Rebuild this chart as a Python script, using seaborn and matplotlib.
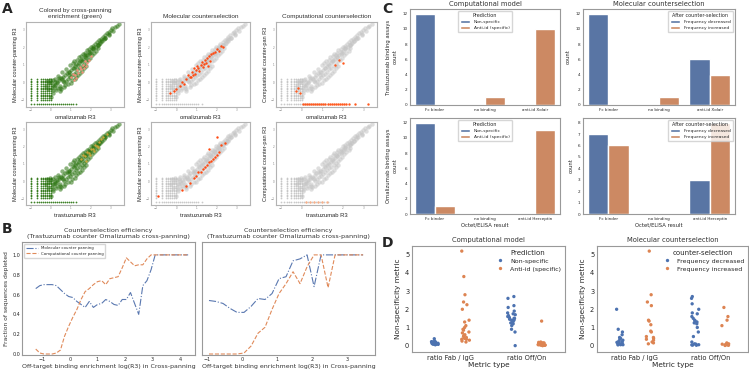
import itertools
import matplotlib
matplotlib.use("Agg")
import matplotlib.pyplot as plt
import numpy as np
import pandas as pd
import seaborn as sns

# ---------------- DATA ----------------
# Panel A: scatter clouds (log R3 values)
band_x = [0.02, 0.05, 0.08, 0.18, 0.22, 0.25, 0.36, 0.41, 0.44, 0.47, 0.57, 0.62, 0.64, 0.66,
          0.77, 0.81, 0.84, 0.86, 0.97, 1.01, 1.04, 1.07, 1.17, 1.22, 1.24, 1.27, 1.38, 1.41,
          1.44, 1.47, 1.58, 1.62, 1.64, 1.66, 1.78, 1.81, 1.85, 1.98, 2.02, 2.06, 2.18, 2.23,
          2.27, 2.39, 2.44, 2.58, 2.63, 2.79, 2.98, 3.28, -0.25, -0.12, 0.1, 0.3, 0.55, 0.9,
          1.12, 1.33, 1.52, 1.72, 1.92, 2.12, 2.33, 2.52, 2.7, 2.9, 3.1]
band_y = [0.05, -0.32, -0.58, 0.22, -0.12, -0.41, 0.38, 0.12, -0.18, -0.49, 0.61, 0.33, 0.02, -0.27,
          0.79, 0.52, 0.21, -0.08, 1.02, 0.72, 0.41, 0.12, 1.21, 0.93, 0.62, 0.33, 1.43, 1.12,
          0.83, 0.55, 1.62, 1.35, 1.08, 0.82, 1.83, 1.57, 1.31, 2.02, 1.79, 1.56, 2.21, 2.02,
          1.82, 2.42, 2.24, 2.61, 2.46, 2.81, 3.01, 3.24, -0.2, -0.05, -0.15, 0.05, 0.2, 0.6,
          0.85, 1.0, 1.3, 1.45, 1.65, 1.95, 2.15, 2.35, 2.55, 2.7, 2.95]
fill_x = [0.1, 0.15, 0.3, 0.32, 0.5, 0.52, 0.7, 0.72, 0.75, 0.92, 0.95, 0.98, 1.1, 1.13, 1.15, 1.18,
          1.3, 1.32, 1.35, 1.5, 1.53, 1.55, 1.57, 1.7, 1.73, 1.75, 1.77, 1.9, 1.93, 1.95, 2.1, 2.12,
          2.15, 2.3, 2.33, 2.36, 2.5, 2.54, 2.68, 2.72, 2.88, 2.92, 3.05, 3.2, 3.4, -0.2, -0.15,
          -0.05, 0.0, 0.12, 0.4, 0.6, 0.88, 1.25, 1.45, 1.68, 1.88, 2.08, 2.4, 0.2, 0.45]
fill_y = [-0.45, -0.2, -0.3, -0.05, -0.35, 0.25, 0.45, -0.15, 0.1, 0.6, 0.3, -0.05, 1.1, 0.8, 0.5,
          0.2, 1.3, 0.75, 0.45, 1.5, 1.2, 0.95, 0.65, 1.7, 1.45, 1.2, 0.95, 1.9, 1.68, 1.42, 2.1, 1.9,
          1.68, 2.3, 2.12, 1.95, 2.5, 2.34, 2.68, 2.55, 2.88, 2.75, 3.08, 3.15, 3.35, 0.1, -0.4,
          0.15, -0.85, 0.12, 0.25, 0.1, 0.45, 1.05, 1.25, 1.55, 1.75, 1.98, 2.2, 0.0, -0.3]
stripe_x = [-1.0, -0.7, -0.52, -0.4, -0.3, -0.2, -0.1, 0.0]
stripe_y = [-1.0, -0.9, -0.8, -0.7, -0.6, -0.5, -0.4, -0.3, -0.2, -0.1, 0.0, 0.1, 0.2]
bottom_x = [-1.0, -0.85, -0.7, -0.6, -0.5, -0.4, -0.3, -0.2, -0.1, 0.0, 0.1, 0.2, 0.3, 0.4, 0.5,
            0.6, 0.7, 0.8, 0.9, 1.0, 1.1, 1.25]
bottom_level = [-1.22]

a1_red_x = [1.0, 1.1, 1.2, 1.3, 1.35, 1.45, 1.5, 1.6, 1.65, 1.7, 1.8, 1.9, 1.25, 1.55, 2.0, 1.15, 1.75]
a1_red_y = [0.3, 0.5, 0.4, 0.7, 0.55, 0.9, 0.75, 1.0, 0.85, 1.2, 1.1, 1.3, 0.25, 0.6, 1.5, 0.15, 0.95]
a2_hit_x = [0.0, 0.2, 0.3, 0.5, 0.6, 0.7, 0.8, 0.85, 0.9, 1.0, 1.05, 1.1, 1.2, 1.25, 1.3, 1.4, 1.45,
            1.5, 1.6, 1.65, 1.7, 1.8, 1.9, 2.0, 2.1, 2.2, 2.3, 1.35, 0.95, 1.15, 1.55, 0.75, -0.3, -0.1, 0.4]
a2_hit_y = [-0.4, -0.2, 0.0, 0.2, 0.4, 0.3, 0.6, 0.45, 0.8, 0.7, 0.95, 0.85, 1.0, 1.15, 0.9, 1.3, 1.1,
            1.4, 1.5, 1.25, 1.6, 1.7, 1.75, 1.9, 1.8, 2.1, 2.0, 1.05, 0.5, 0.65, 0.95, 0.3, -0.6, -0.5, -0.1]
a3_hit_x = [0.05, 0.15, 0.25, 0.35, 0.45, 0.55, 0.65, 0.75, 0.85, 0.95, 1.05, 1.15, 1.25, 1.35,
            1.45, 1.55, 1.65, 1.75, 1.85, 1.95, 2.05, 2.15, 2.3, 2.6, 3.2, -0.3, -0.2, -0.1, 1.6, 1.8, 2.0]
a3_hit_y = [-1.22, -1.22, -1.22, -1.22, -1.22, -1.22, -1.22, -1.22, -1.22, -1.22, -1.22, -1.22, -1.22, -1.22,
            -1.22, -1.22, -1.22, -1.22, -1.22, -1.22, -1.22, -1.22, -1.22, -1.22, -1.22, -0.5, -0.3, -0.6, 1.0, 1.3, 1.1]
b1_yel_x = [1.5, 1.6, 1.7, 1.8, 1.9, 2.0, 2.1, 2.2, 2.3, 2.4, 2.5, 1.75, 1.95, 2.15, 2.35, 2.6, 2.8]
b1_yel_y = [1.3, 1.5, 1.45, 1.7, 1.65, 1.9, 1.85, 2.1, 2.05, 2.3, 2.45, 1.2, 1.5, 1.75, 2.0, 2.6, 2.75]
b2_hit_x = [0.3, 0.5, 0.7, 0.9, 1.0, 1.1, 1.2, 1.3, 1.4, 1.5, 1.6, 1.7, 1.8, 1.9, 2.0, 2.1, 2.2, 2.4, 2.0, 1.6, -0.9]
b2_hit_y = [-0.5, -0.3, -0.1, 0.2, 0.3, 0.5, 0.55, 0.7, 0.8, 0.95, 1.1, 1.15, 1.3, 1.4, 1.55, 1.7, 2.1, 2.2, 2.6, 1.9, -0.9]
b3_hit_x = [0.2, 0.4, 0.6, 0.8, 1.0, 1.2]
b3_hit_y = [-1.22, -1.22, -1.22, -1.22, -1.22, -1.22]

# Panel B: counterselection efficiency
bl_x = [-1.25, -1.1, -0.95, -0.8, -0.65, -0.5, -0.35, -0.2, -0.05, 0.1, 0.25, 0.4, 0.55, 0.7, 0.85,
        1.0, 1.15, 1.3, 1.45, 1.6, 1.75, 1.9, 2.05, 2.2, 2.35, 2.5, 2.65, 2.8, 2.95, 3.1, 3.25, 3.4,
        3.55, 3.7, 3.85, 4.0, 4.15, 4.3]
bl_molecular = [0.66, 0.69, 0.70, 0.70, 0.70, 0.69, 0.65, 0.61, 0.58, 0.57, 0.53, 0.50, 0.47, 0.53, 0.47,
                0.50, 0.51, 0.55, 0.53, 0.50, 0.49, 0.55, 0.55, 0.62, 0.51, 0.40, 0.69, 0.74, 0.85, 1.0,
                1.0, 1.0, 1.0, 1.0, 1.0, 1.0, 1.0, 1.0]
bl_computational = [0.05, 0.01, 0.0, 0.0, 0.0, 0.01, 0.04, 0.18, 0.28, 0.37, 0.45, 0.55, 0.63, 0.66, 0.70,
                    0.73, 0.74, 0.70, 0.76, 0.77, 0.78, 0.87, 0.97, 0.93, 0.89, 0.90, 0.90, 0.96, 1.0, 1.0,
                    1.0, 1.0, 1.0, 1.0, 1.0, 1.0, 1.0, 1.0]
br_x = [-0.95, -0.75, -0.55, -0.35, -0.15, 0.05, 0.25, 0.45, 0.65, 0.85, 1.05, 1.25, 1.45, 1.65,
        1.85, 2.05, 2.25, 2.45, 2.65, 2.85, 3.05, 3.25, 3.45]
br_molecular = [0.54, 0.53, 0.51, 0.46, 0.42, 0.42, 0.48, 0.56, 0.55, 0.61, 0.76, 0.78, 0.94, 0.96,
                1.0, 0.68, 1.0, 1.0, 1.0, 1.0, 1.0, 1.0, 1.0]
br_computational = [0.0, 0.0, 0.0, 0.0, 0.0, 0.01, 0.08, 0.21, 0.27, 0.45, 0.61, 0.71, 0.83, 0.71,
                    0.88, 1.0, 1.0, 0.67, 1.0, 1.0, 1.0, 1.0, 1.0]

# Panel C: Octet/ELISA counts
c_results_tras = ["Fc binder", "no binding", "anti-id Xolair"]
c_results_omal = ["Fc binder", "no binding", "anti-id Herceptin"]
pred_levels = ["Non-specific", "Anti-id (specific)"]
freq_levels = ["Frequency decreased", "Frequency increased"]
c_comp_tras_ns = [12, 0, 0]
c_comp_tras_ai = [0, 1, 10]
c_mol_tras_dec = [12, 0, 6]
c_mol_tras_inc = [0, 1, 4]
c_comp_omal_ns = [12, 0, 0]
c_comp_omal_ai = [1, 0, 11]
c_mol_omal_dec = [7, 0, 3]
c_mol_omal_inc = [6, 0, 8]

# Panel D: non-specificity metrics
metric_types = ["ratio Fab / IgG", "ratio Off/On"]
d_comp_fab_ns = [0.38, 0.25, 0.22, 0.2, 0.18, 0.17, 0.16, 0.15, 0.14, 0.13, 0.12, 0.12, 0.11, 0.10,
                 0.10, 0.09, 0.08, 0.08, 0.07, 0.06, 0.05, 0.15, 0.18, 0.2]
d_comp_fab_ai = [5.2, 3.8, 2.8, 2.4, 2.25, 2.0, 1.4, 1.3, 1.0, 0.9, 0.85, 0.75, 0.7, 0.6, 0.55, 0.5,
                 0.45, 0.4, 0.35, 0.3, 0.25, 0.2, 1.1, 0.35]
d_comp_off_ns = [2.7, 2.6, 2.2, 2.1, 1.9, 1.8, 1.75, 1.7, 1.65, 1.6, 1.55, 1.5, 1.5, 1.45, 1.4, 1.4,
                 1.35, 1.3, 1.25, 1.2, 1.1, 0.9, 0.75, 0.0]
d_comp_off_ai = [1.35, 0.2, 0.18, 0.15, 0.12, 0.1, 0.1, 0.08, 0.07, 0.06, 0.05, 0.05, 0.04, 0.03,
                 0.03, 0.02, 0.02, 0.01, 0.0, 0.12, 0.15, 0.09]
d_mol_fab_dec = [2.0, 0.9, 0.75, 0.6, 0.45, 0.4, 0.35, 0.3, 0.25, 0.2, 0.18, 0.15, 0.12, 0.1, 0.08,
                 0.07, 0.05, 0.05, 0.04, 0.1, 0.2]
d_mol_fab_inc = [5.2, 2.8, 2.4, 2.2, 1.4, 1.35, 1.15, 0.8, 0.75, 0.5, 0.45, 0.4, 0.35, 0.3, 0.2, 0.15, 0.1]
d_mol_off_dec = [2.7, 2.6, 2.3, 2.0, 1.8, 1.75, 1.6, 1.5, 1.4, 1.35, 1.3, 1.25, 1.2, 1.0, 0.75, 0.5,
                 0.2, 0.1, 0.08, 0.05, 0.04, 0.03, 0.02]
d_mol_off_inc = [2.1, 1.6, 1.4, 1.1, 0.15, 0.1, 0.08, 0.05, 0.04, 0.03, 0.02, 0.01]

# ---------------- STYLE ----------------
sns.set_theme(style="white")
plt.rcParams["font.family"] = ["DejaVu Sans"]
plt.rcParams["axes.edgecolor"] = "0.6"
plt.rcParams["axes.linewidth"] = 0.8

BLUE = "#4C72B0"
ORANGE = "#DD8452"
W, H = 749, 373
fig = plt.figure(figsize=(W / 100, H / 100), dpi=100)


def rect(x0, x1, y0, y1):
    return [x0 / W, 1 - y1 / H, (x1 - x0) / W, (y1 - y0) / H]


# ---------------- PANEL A ----------------
grid = list(itertools.product(stripe_x, stripe_y))
band_all_x = band_x + fill_x
band_all_y = band_y + fill_y
stripes_x = [g[0] for g in grid]
stripes_y = [g[1] for g in grid]
bottom_y = bottom_level * len(bottom_x)

a_cols = [(26, 124), (151, 250), (276, 377)]
a_rows = [(22, 107), (122, 205)]
a_titles = ["Colored by cross-panning\nenrichment (green)", "Molecular counterselection",
            "Computational counterselection"]
a_ylabels = ["Molecular counter-panning R3", "Molecular counter-panning R3",
             "Computational counter-pan R3"]
a_xlabels = ["omalizumab R3", "trastuzumab R3"]
overlays = {
    (0, 0): [(a1_red_x, a1_red_y, "#f4907a")],
    (0, 1): [(a2_hit_x, a2_hit_y, "#ff4a12")],
    (0, 2): [(a3_hit_x, a3_hit_y, "#ff5a20")],
    (1, 0): [(b1_yel_x, b1_yel_y, "#c9a63a")],
    (1, 1): [(b2_hit_x, b2_hit_y, "#ff4a12")],
    (1, 2): [(b3_hit_x, b3_hit_y, "#f7b08a")],
}
for r, (y0, y1) in enumerate(a_rows):
    for c, (x0, x1) in enumerate(a_cols):
        ax = fig.add_axes(rect(x0, x1, y0, y1))
        base_color = "#2a7410" if c == 0 else "#c4c4c4"
        sns.scatterplot(x=band_all_x, y=band_all_y, ax=ax, s=10, color=base_color, linewidth=0,
                        alpha=0.55, legend=False)
        sns.scatterplot(x=stripes_x, y=stripes_y, ax=ax, s=1.6, color=base_color, linewidth=0,
                        alpha=0.9, legend=False)
        sns.scatterplot(x=bottom_x, y=bottom_y, ax=ax, s=1.6, color=base_color, linewidth=0,
                        alpha=0.9, legend=False)
        for ox, oy, col in overlays[(r, c)]:
            sns.scatterplot(x=ox, y=oy, ax=ax, s=3, color=col, linewidth=0, legend=False)
        ax.set_xlim(-1.25, 3.65)
        ax.set_ylim(-1.4, 3.45)
        ax.set_xticks([-1, 0, 1, 2, 3])
        ax.set_yticks([-1, 0, 1, 2, 3])
        ax.tick_params(labelsize=2, length=0, pad=1, colors="0.5")
        for s in ax.spines.values():
            s.set_color("0.7")
        ax.set_xlabel(a_xlabels[r], fontsize=4.2, family="Liberation Sans", labelpad=2)
        ax.set_ylabel(a_ylabels[c], fontsize=4.0, family="Liberation Sans", labelpad=2)
        if r == 0:
            ax.set_title(a_titles[c], fontsize=4.6, family="Liberation Sans", pad=3, color="0.2")

# ---------------- PANEL B ----------------
b_specs = [((22, 195), bl_x, bl_molecular, bl_computational, (-1.75, 4.55), [-1, 0, 1, 2, 3, 4]),
           ((202, 375), br_x, br_molecular, br_computational, (-1.15, 3.79), [-1, 0, 1, 2, 3])]
for i, ((x0, x1), xs, mol, comp, xl, xt) in enumerate(b_specs):
    ax = fig.add_axes(rect(x0, x1, 242, 355))
    sns.lineplot(x=xs, y=mol, ax=ax, color="#5a78b0", linestyle="-.", linewidth=0.8,
                 label="Molecular counter panning")
    sns.lineplot(x=xs, y=comp, ax=ax, color="#e08a5a", linestyle="--", linewidth=0.8,
                 label="Computational counter panning")
    ax.set_xlim(*xl)
    ax.set_ylim(-0.01, 1.13)
    ax.set_xticks(xt)
    ax.set_yticks([0.0, 0.2, 0.4, 0.6, 0.8, 1.0])
    ax.tick_params(labelsize=3.5, length=0, pad=1.5)
    ax.set_title("Counterselection efficiency\n(Trastuzumab counter Omalizumab cross-panning)",
                 fontsize=4.6, pad=3, color="0.2", linespacing=1.3)
    ax.set_xlabel("Off-target binding enrichment log(R3) in Cross-panning", fontsize=4.5,
                  labelpad=1.5, color="0.2")
    if i == 0:
        ax.set_ylabel("Fraction of sequences depleted", fontsize=4.3, labelpad=2, color="0.2")
        ax.legend(loc="upper left", fontsize=2.8, frameon=True, handlelength=3,
                  borderpad=0.5, labelspacing=0.5)
    else:
        ax.set_yticklabels([])
        ax.get_legend().remove()

# ---------------- PANEL C ----------------
c_specs = [
    ((410, 560), (9, 105), c_results_tras, c_comp_tras_ns, c_comp_tras_ai, pred_levels, "Prediction",
     "upper center", "Trastuzumab binding assays\ncount", "Computational model", None, [0, 2, 4, 6, 8, 10, 12]),
    ((583, 735), (9, 105), c_results_tras, c_mol_tras_dec, c_mol_tras_inc, freq_levels,
     "After counter-selection", "upper right", "count", "Molecular counterselection", None,
     [0, 2, 4, 6, 8, 10, 12]),
    ((410, 560), (118, 214), c_results_omal, c_comp_omal_ns, c_comp_omal_ai, pred_levels, "Prediction",
     "upper center", "Omalizumab binding assays\ncount", None, "Octet/ELISA result", [0, 2, 4, 6, 8, 10, 12]),
    ((583, 735), (118, 214), c_results_omal, c_mol_omal_dec, c_mol_omal_inc, freq_levels,
     "After counter-selection", "upper right", "count", None, "Octet/ELISA result",
     [0, 1, 2, 3, 4, 5, 6, 7, 8]),
]
for (x0, x1), (y0, y1), cats, v1, v2, levels, ltitle, lloc, ylab, title, xlab, yt in c_specs:
    ax = fig.add_axes(rect(x0, x1, y0, y1))
    df = pd.DataFrame({
        "result": cats + cats,
        "group": [levels[0]] * len(cats) + [levels[1]] * len(cats),
        "count": v1 + v2,
    })
    sns.barplot(data=df, x="result", y="count", hue="group", hue_order=levels,
                palette=[BLUE, ORANGE], ax=ax)
    ax.set_yticks(yt)
    ax.tick_params(labelsize=3.0, length=0, pad=2)
    ax.set_ylabel(ylab, fontsize=3.8, labelpad=3, linespacing=1.4)
    ax.set_xlabel(xlab if xlab else "", fontsize=3.8, labelpad=1)
    if title:
        ax.set_title(title, fontsize=4.9, pad=2, color="0.2")
    leg = ax.legend(title=ltitle, loc=lloc, fontsize=3.2, title_fontsize=3.5, frameon=True,
                    handlelength=2.2, borderpad=0.5, labelspacing=0.4)

# ---------------- PANEL D ----------------
d_specs = [
    ((412, 565), "Computational model", "Prediction", pred_levels,
     [d_comp_fab_ns, d_comp_fab_ai, d_comp_off_ns, d_comp_off_ai]),
    ((597, 748), "Molecular counterselection", "counter-selection", freq_levels,
     [d_mol_fab_dec, d_mol_fab_inc, d_mol_off_dec, d_mol_off_inc]),
]
for (x0, x1), title, ltitle, levels, vals in d_specs:
    ax = fig.add_axes(rect(x0, x1, 246, 352))
    groups = [(metric_types[0], levels[0]), (metric_types[0], levels[1]),
              (metric_types[1], levels[0]), (metric_types[1], levels[1])]
    rows = []
    for (m, g), vv in zip(groups, vals):
        for v in vv:
            rows.append({"Metric type": m, "group": g, "value": v})
    df = pd.DataFrame(rows)
    sns.stripplot(data=df, x="Metric type", y="value", hue="group", hue_order=levels,
                  order=metric_types, dodge=True, jitter=0.1, size=2.4, palette=[BLUE, ORANGE],
                  linewidth=0, ax=ax)
    ax.set_ylim(-0.35, 5.48)
    ax.set_yticks([0, 1, 2, 3, 4, 5])
    ax.tick_params(labelsize=4.8, length=0, pad=2)
    ax.set_ylabel("Non-specificity metric", fontsize=5.3, labelpad=3)
    ax.set_xlabel("Metric type", fontsize=5.3, labelpad=1)
    ax.set_title(title, fontsize=4.9, pad=3, color="0.2")
    ax.legend(title=ltitle, loc="upper right", fontsize=4.5, title_fontsize=5.0, frameon=False,
              handletextpad=0.6, markerscale=1.0, borderaxespad=0.2, labelspacing=0.4)

# ---------------- PANEL LETTERS ----------------
for lbl, x, y in [("A", 2, 2), ("B", 2, 222), ("C", 382, 2), ("D", 382, 236)]:
    fig.text(x / W, 1 - y / H, lbl, fontsize=10, fontweight="bold", va="top", ha="left")

fig.savefig("out.png", dpi=100)
